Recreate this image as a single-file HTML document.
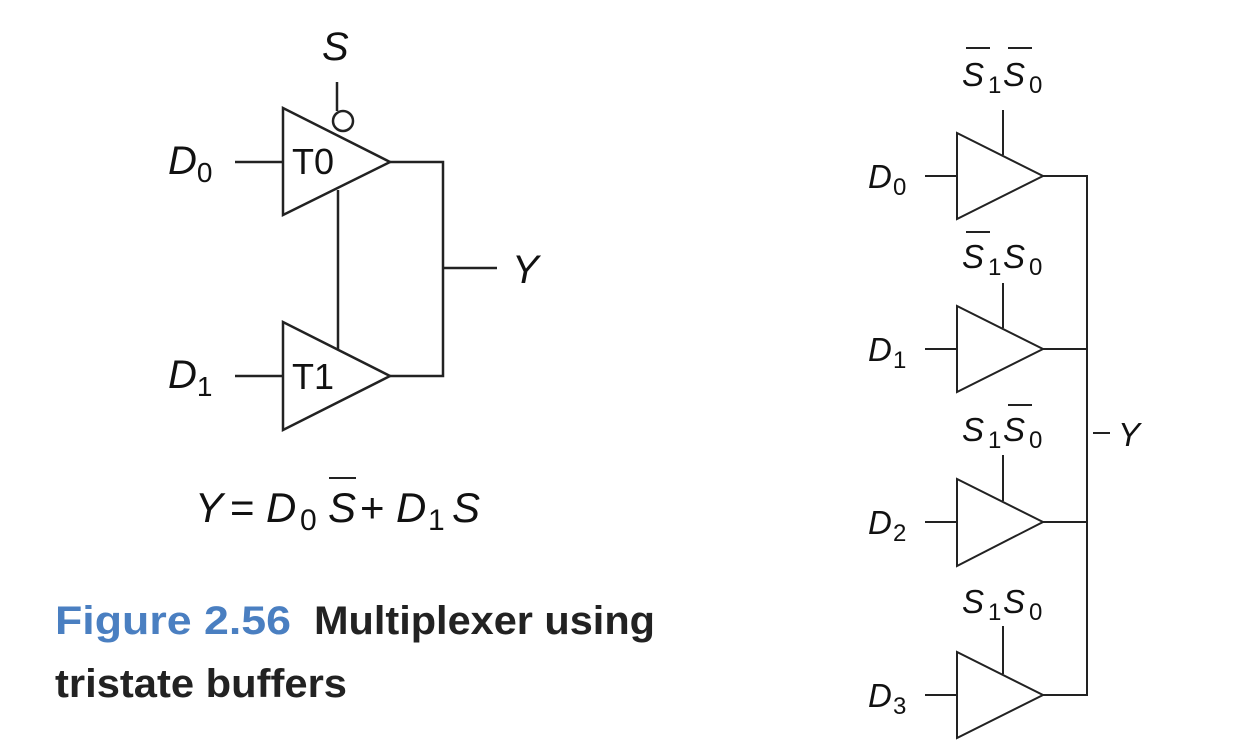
<!DOCTYPE html>
<html><head><meta charset="utf-8"><style>body{margin:0;background:#fff}svg{display:block}</style></head>
<body>
<svg width="1252" height="756" viewBox="0 0 1252 756" xmlns="http://www.w3.org/2000/svg" font-family="Liberation Sans, Arial, sans-serif">
<g stroke="#222" stroke-width="2.5" fill="none">
<polygon points="283,108 283,215 390,162"/>
<polygon points="283,322 283,430 390,376"/>
<line x1="235" y1="162" x2="283" y2="162"/>
<line x1="235" y1="376" x2="283" y2="376"/>
<polyline points="390,162 443,162 443,376 390,376"/>
<line x1="443" y1="268" x2="497" y2="268"/>
<line x1="338" y1="190" x2="338" y2="349"/>
<circle cx="343" cy="121" r="10"/>
<line x1="337" y1="82" x2="337" y2="111"/>
<g stroke-width="2">
<polygon points="957,133 957,219 1043,176"/>
<polygon points="957,306 957,392 1043,349"/>
<polygon points="957,479 957,566 1043,522"/>
<polygon points="957,652 957,738 1043,695"/>
<line x1="925" y1="176" x2="957" y2="176"/>
<line x1="925" y1="349" x2="957" y2="349"/>
<line x1="925" y1="522" x2="957" y2="522"/>
<line x1="925" y1="695" x2="957" y2="695"/>
<polyline points="1043,176 1087,176 1087,695 1043,695"/>
<line x1="1043" y1="349" x2="1087" y2="349"/>
<line x1="1043" y1="522" x2="1087" y2="522"/>
<line x1="1093" y1="433" x2="1110" y2="433"/>
<line x1="1003" y1="110" x2="1003" y2="155"/>
<line x1="1003" y1="283" x2="1003" y2="328"/>
<line x1="1003" y1="455" x2="1003" y2="501"/>
<line x1="1003" y1="626" x2="1003" y2="674"/>
</g>
<g stroke-width="2">
<line x1="966" y1="48" x2="990" y2="48"/><line x1="1008" y1="48" x2="1032" y2="48"/>
<line x1="966" y1="232" x2="990" y2="232"/>
<line x1="1008" y1="405" x2="1032" y2="405"/>
<line x1="329" y1="478" x2="356" y2="478"/>
</g>
</g>
<g fill="#111" font-style="italic">
<text x="322" y="60" font-size="40">S</text>
<text x="168" y="174" font-size="40">D<tspan font-style="normal" font-size="28" dy="8">0</tspan></text>
<text x="168" y="388" font-size="40">D<tspan font-style="normal" font-size="28" dy="8">1</tspan></text>
<text x="512" y="283" font-size="40">Y</text>
<g font-size="42">
<text x="195" y="522">Y</text>
<text x="230" y="522" font-style="normal">=</text>
<text x="266" y="522">D</text>
<text x="300" y="530" font-style="normal" font-size="30">0</text>
<text x="328" y="522">S</text>
<text x="360" y="522" font-style="normal">+</text>
<text x="396" y="522">D</text>
<text x="428" y="530" font-style="normal" font-size="30">1</text>
<text x="452" y="522">S</text>
</g>
<g font-size="33">
<text x="868" y="188">D</text><text x="893" y="195" font-style="normal" font-size="24">0</text>
<text x="868" y="361">D</text><text x="893" y="368" font-style="normal" font-size="24">1</text>
<text x="868" y="534">D</text><text x="893" y="541" font-style="normal" font-size="24">2</text>
<text x="868" y="707">D</text><text x="893" y="714" font-style="normal" font-size="24">3</text>
<text x="1118" y="446">Y</text>
<text x="962" y="86">S</text><text x="988" y="93" font-style="normal" font-size="24">1</text><text x="1003" y="86">S</text><text x="1029" y="93" font-style="normal" font-size="24">0</text>
<text x="962" y="268">S</text><text x="988" y="275" font-style="normal" font-size="24">1</text><text x="1003" y="268">S</text><text x="1029" y="275" font-style="normal" font-size="24">0</text>
<text x="962" y="441">S</text><text x="988" y="448" font-style="normal" font-size="24">1</text><text x="1003" y="441">S</text><text x="1029" y="448" font-style="normal" font-size="24">0</text>
<text x="962" y="613">S</text><text x="988" y="620" font-style="normal" font-size="24">1</text><text x="1003" y="613">S</text><text x="1029" y="620" font-style="normal" font-size="24">0</text>
</g>
</g>
<text x="292" y="174" font-size="36" fill="#111">T0</text>
<text x="292" y="389" font-size="36" fill="#111">T1</text>
<g font-weight="bold" font-size="40">
<text x="55" y="634" fill="#4a7fc1" textLength="236" lengthAdjust="spacingAndGlyphs">Figure 2.56</text>
<text x="314" y="634" fill="#222" textLength="341" lengthAdjust="spacingAndGlyphs">Multiplexer using</text>
<text x="55" y="697" fill="#222" textLength="292" lengthAdjust="spacingAndGlyphs">tristate buffers</text>
</g>
</svg>
</body></html>
